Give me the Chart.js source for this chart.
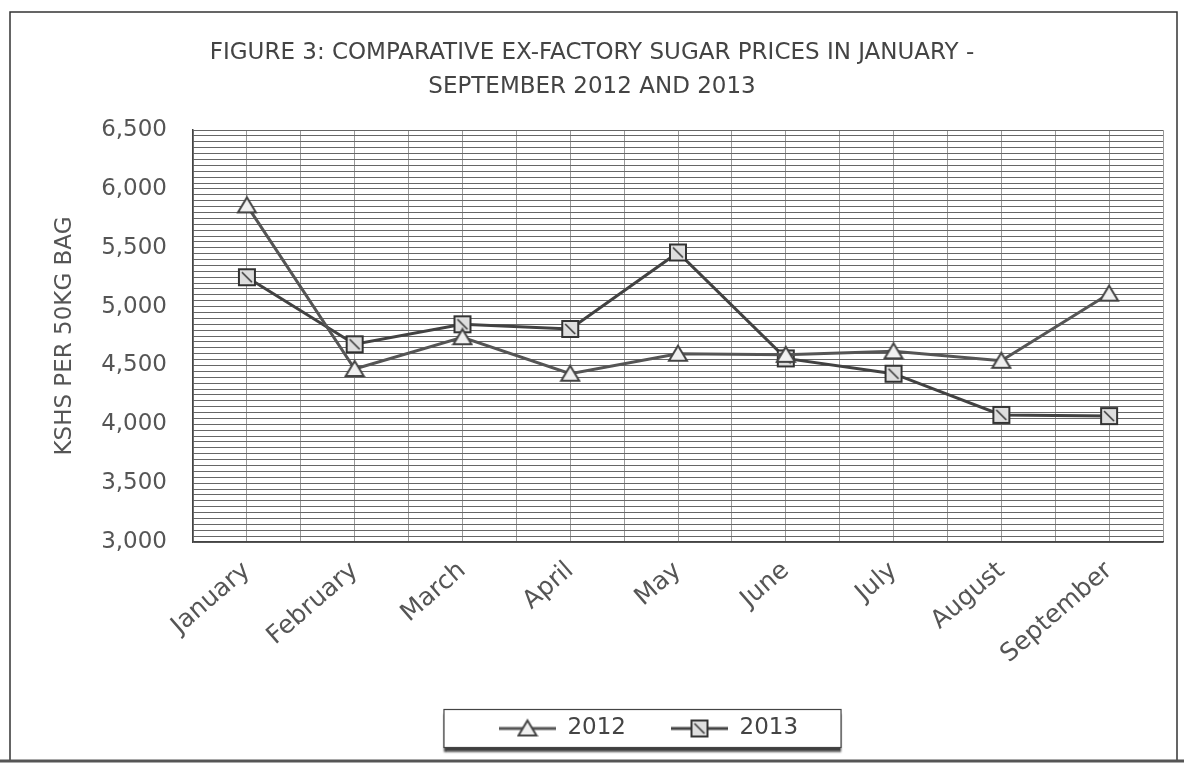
<!DOCTYPE html>
<html>
<head>
<meta charset="utf-8">
<title>Ex-factory sugar prices</title>
<script src="https://cdn.jsdelivr.net/npm/chart.js@4.4.1/dist/chart.umd.min.js"></script>
<style>
  html, body { margin: 0; padding: 0; background: #fff; }
  #precios { display: block; }
</style>
</head>
<body>
<canvas id="precios" width="1184" height="766"></canvas>
<script>
// DATOS
var meses = ['January', 'February', 'March', 'April', 'May', 'June', 'July', 'August', 'September'];
var precios2012 = [5860, 4470, 4740, 4430, 4600, 4590, 4620, 4540, 5110];
var precios2013 = [5250, 4680, 4850, 4810, 5460, 4560, 4430, 4080, 4070];
var series = ['2012', '2013'];
var titulo = ['FIGURE 3: COMPARATIVE EX-FACTORY SUGAR PRICES IN JANUARY -', 'SEPTEMBER 2012 AND 2013'];
var tituloEje = 'KSHS PER 50KG BAG';
var yMin = 3000, yMax = 6500, pasoEtiqueta = 500, pasoRejilla = 50;

Chart.defaults.font.family = "'DejaVu Sans', sans-serif";
Chart.defaults.color = '#555';

// MARCADORES
function marcaTriangulo() {
    var c = document.createElement('canvas');
    c.width = 22; c.height = 20;
    var g = c.getContext('2d');
    g.beginPath();
    g.moveTo(11, 2); g.lineTo(20, 17); g.lineTo(2, 17); g.closePath();
    g.fillStyle = '#f0f0f0'; g.fill();
    g.strokeStyle = '#444'; g.lineWidth = 2; g.stroke();
    return c;
}

function marcaCuadro() {
    var c = document.createElement('canvas');
    c.width = 20; c.height = 20;
    var g = c.getContext('2d');
    g.fillStyle = '#dedede'; g.fillRect(2, 2, 16, 16);
    g.strokeStyle = '#333'; g.lineWidth = 2; g.strokeRect(2, 2, 16, 16);
    g.beginPath(); g.moveTo(5, 5); g.lineTo(15, 15);
    g.lineWidth = 1.5; g.stroke();
    return c;
}

// icono de la leyenda: linea con el marcador en medio
function iconoLeyenda(color, marca) {
    var c = document.createElement('canvas');
    c.width = 82; c.height = 24;
    var g = c.getContext('2d');
    g.strokeStyle = color; g.lineWidth = 3;
    g.beginPath(); g.moveTo(25, 12); g.lineTo(82, 12); g.stroke();
    g.drawImage(marca, 53.5 - marca.width / 2, 12 - marca.height / 2);
    return c;
}

var colores = ['#555555', '#424242'];
var marcas = [marcaTriangulo(), marcaCuadro()];
var iconos = [iconoLeyenda(colores[0], marcas[0]), iconoLeyenda(colores[1], marcas[1])];

// fondo, marco exterior y caja de la leyenda
var marcoGrafica = {
    id: 'marcoGrafica',
    afterLayout: function(chart) {
        chart.legend.left += 44;
        chart.legend.right += 44;
    },
    beforeDraw: function(chart) {
        var ctx = chart.ctx;
        ctx.save();
        ctx.fillStyle = '#fff';
        ctx.fillRect(0, 0, chart.width, chart.height);
        var cajas = chart.legend.legendHitBoxes;
        if (cajas && cajas.length) {
            var a = cajas[0], b = cajas[cajas.length - 1];
            var cy = a.top + a.height / 2;
            var izq = a.left - 30, der = b.left + b.width + 43;
            ctx.shadowColor = 'rgba(0,0,0,0.75)';
            ctx.shadowOffsetY = 4;
            ctx.shadowBlur = 2;
            ctx.fillStyle = '#fff';
            ctx.fillRect(izq, cy - 19, der - izq, 38);
            ctx.shadowColor = 'transparent';
            ctx.strokeStyle = '#444';
            ctx.lineWidth = 1.2;
            ctx.strokeRect(izq, cy - 19, der - izq, 38);
        }
        ctx.restore();
    },
    afterDraw: function(chart) {
        var ctx = chart.ctx;
        ctx.save();
        ctx.strokeStyle = '#333';
        ctx.lineWidth = 1.5;
        ctx.beginPath();
        ctx.moveTo(10, 760); ctx.lineTo(10, 12); ctx.lineTo(1177, 12); ctx.lineTo(1177, 760);
        ctx.stroke();
        ctx.strokeStyle = '#555';
        ctx.lineWidth = 3;
        ctx.beginPath(); ctx.moveTo(0, 761); ctx.lineTo(1184, 761); ctx.stroke();
        ctx.restore();
    }
};

var config = {
    type: 'line',
    data: {
        labels: meses,
        datasets: [{
            label: series[0],
            data: precios2012,
            borderColor: colores[0],
            borderWidth: 3,
            pointStyle: marcas[0],
            tension: 0
        }, {
            label: series[1],
            data: precios2013,
            borderColor: colores[1],
            borderWidth: 3,
            pointStyle: marcas[1],
            tension: 0
        }]
    },
    options: {
        responsive: false,
        animation: false,
        devicePixelRatio: 1,
        layout: { padding: { top: 12, left: 21, right: 21, bottom: 16 } },
        plugins: {
            tooltip: { enabled: false },
            title: {
                display: true,
                text: titulo,
                color: '#444',
                font: { size: 23, weight: 'normal', lineHeight: 1.48 },
                padding: { top: 24, bottom: 26 }
            },
            legend: {
                position: 'bottom',
                labels: {
                    usePointStyle: true,
                    pointStyleWidth: 82,
                    padding: 20,
                    color: '#444',
                    font: { size: 23 },
                    generateLabels: function(chart) {
                        return chart.data.datasets.map(function(ds, i) {
                            return {
                                text: ds.label,
                                pointStyle: iconos[i],
                                datasetIndex: i,
                                hidden: false,
                                lineWidth: 0,
                                strokeStyle: 'transparent',
                                fillStyle: 'transparent',
                                fontColor: '#444'
                            };
                        });
                    }
                }
            }
        },
        scales: {
            x: {
                type: 'category',
                offset: true,
                grid: { offset: true, color: '#9a9a9a', lineWidth: 1, drawTicks: false },
                border: { color: '#444', width: 1.5 },
                ticks: {
                    color: '#555',
                    font: { size: 25 },
                    minRotation: 41,
                    maxRotation: 41,
                    padding: 14,
                    autoSkip: false
                },
                afterFit: function(scale) { scale.height = 155; }
            },
            x2: {
                type: 'category',
                position: 'bottom',
                offset: true,
                grid: { offset: false, color: '#9a9a9a', lineWidth: 1, drawTicks: false },
                border: { display: false },
                ticks: { display: false },
                afterFit: function(scale) { scale.height = 0; }
            },
            y: {
                min: yMin,
                max: yMax,
                grid: { color: '#666', lineWidth: 1, drawTicks: false },
                border: { color: '#444', width: 1.5 },
                ticks: {
                    stepSize: pasoRejilla,
                    maxTicksLimit: 200,
                    autoSkip: false,
                    padding: 26,
                    color: '#555',
                    font: { size: 23 },
                    callback: function(v) {
                        return v % pasoEtiqueta === 0 ? v.toLocaleString('en-US') : '';
                    }
                },
                title: {
                    display: true,
                    text: tituloEje,
                    color: '#555',
                    font: { size: 23 },
                    padding: { top: 30, bottom: 0 }
                },
                afterFit: function(scale) { scale.width = 172; }
            }
        }
    },
    plugins: [marcoGrafica]
};

var graficoPrecios = new Chart(document.getElementById('precios').getContext('2d'), config);
</script>
</body>
</html>
